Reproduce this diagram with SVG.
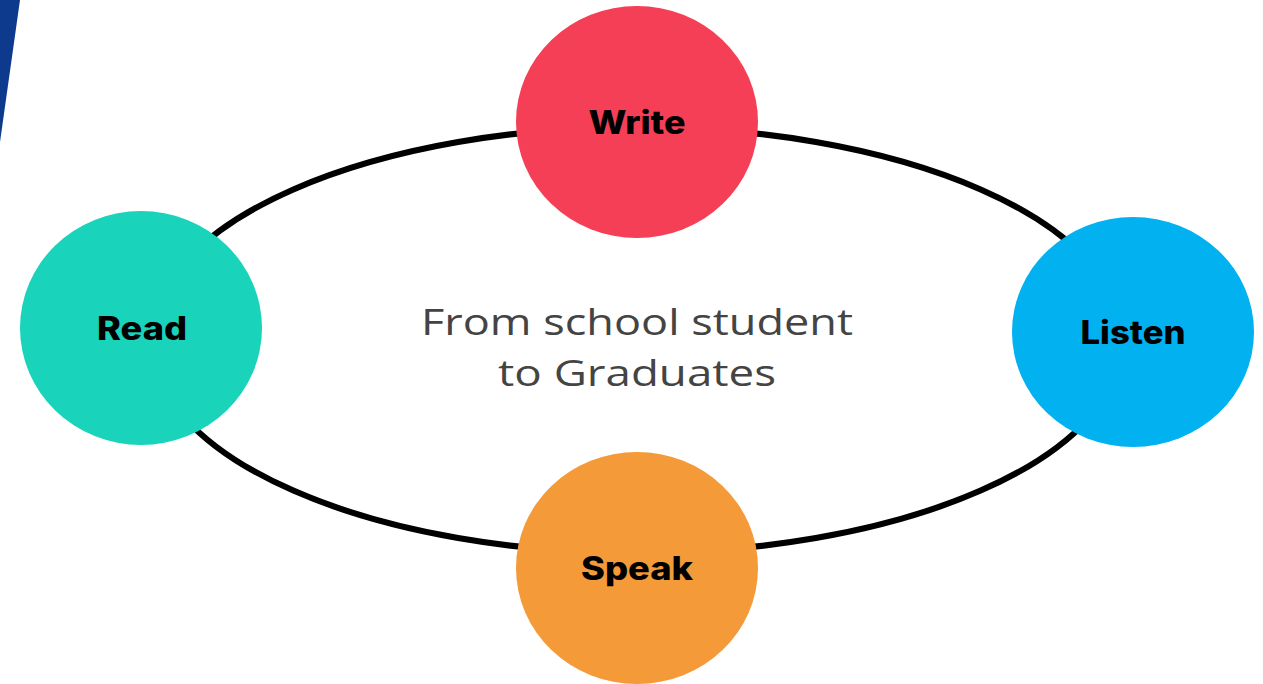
<svg xmlns="http://www.w3.org/2000/svg" width="1263" height="684" viewBox="0 0 1263 684">
<style>
.lbl{font-family:"Inter","Noto Sans","Liberation Sans",sans-serif;font-weight:800;font-size:32px;fill:#000;text-anchor:middle;dominant-baseline:central}
.ctr{font-family:"Open Sans","Noto Sans","Liberation Sans",sans-serif;font-size:37px;fill:#444;text-anchor:middle}
</style>
<rect width="1263" height="684" fill="#fff"/>
<polygon points="0,0 20,0 0,142" fill="#0d3a8c"/>
<g id="connectors">
<ellipse cx="637" cy="340" rx="486" ry="213" fill="none" stroke="#000" stroke-width="6"/>
</g>
<g id="write">
<ellipse cx="637" cy="122" rx="121" ry="116" fill="#f43f56"/>
<text class="lbl" x="637" y="122" textLength="97" lengthAdjust="spacingAndGlyphs">Write</text>
</g>
<g id="listen">
<ellipse cx="1133" cy="332" rx="121" ry="115" fill="#02b1f0"/>
<text class="lbl" x="1133" y="332" textLength="105" lengthAdjust="spacingAndGlyphs">Listen</text>
</g>
<g id="read">
<ellipse cx="141" cy="328" rx="121" ry="117" fill="#19d3bb"/>
<text class="lbl" x="142" y="328" textLength="90" lengthAdjust="spacingAndGlyphs">Read</text>
</g>
<g id="speak">
<ellipse cx="637" cy="568" rx="121" ry="116" fill="#f49a38"/>
<text class="lbl" x="637" y="568" textLength="112" lengthAdjust="spacingAndGlyphs">Speak</text>
</g>
<g id="center">
<text class="ctr" x="637" y="335" textLength="432" lengthAdjust="spacingAndGlyphs">From school student</text>
<text class="ctr" x="637" y="386" textLength="278" lengthAdjust="spacingAndGlyphs">to Graduates</text>
</g>
</svg>
